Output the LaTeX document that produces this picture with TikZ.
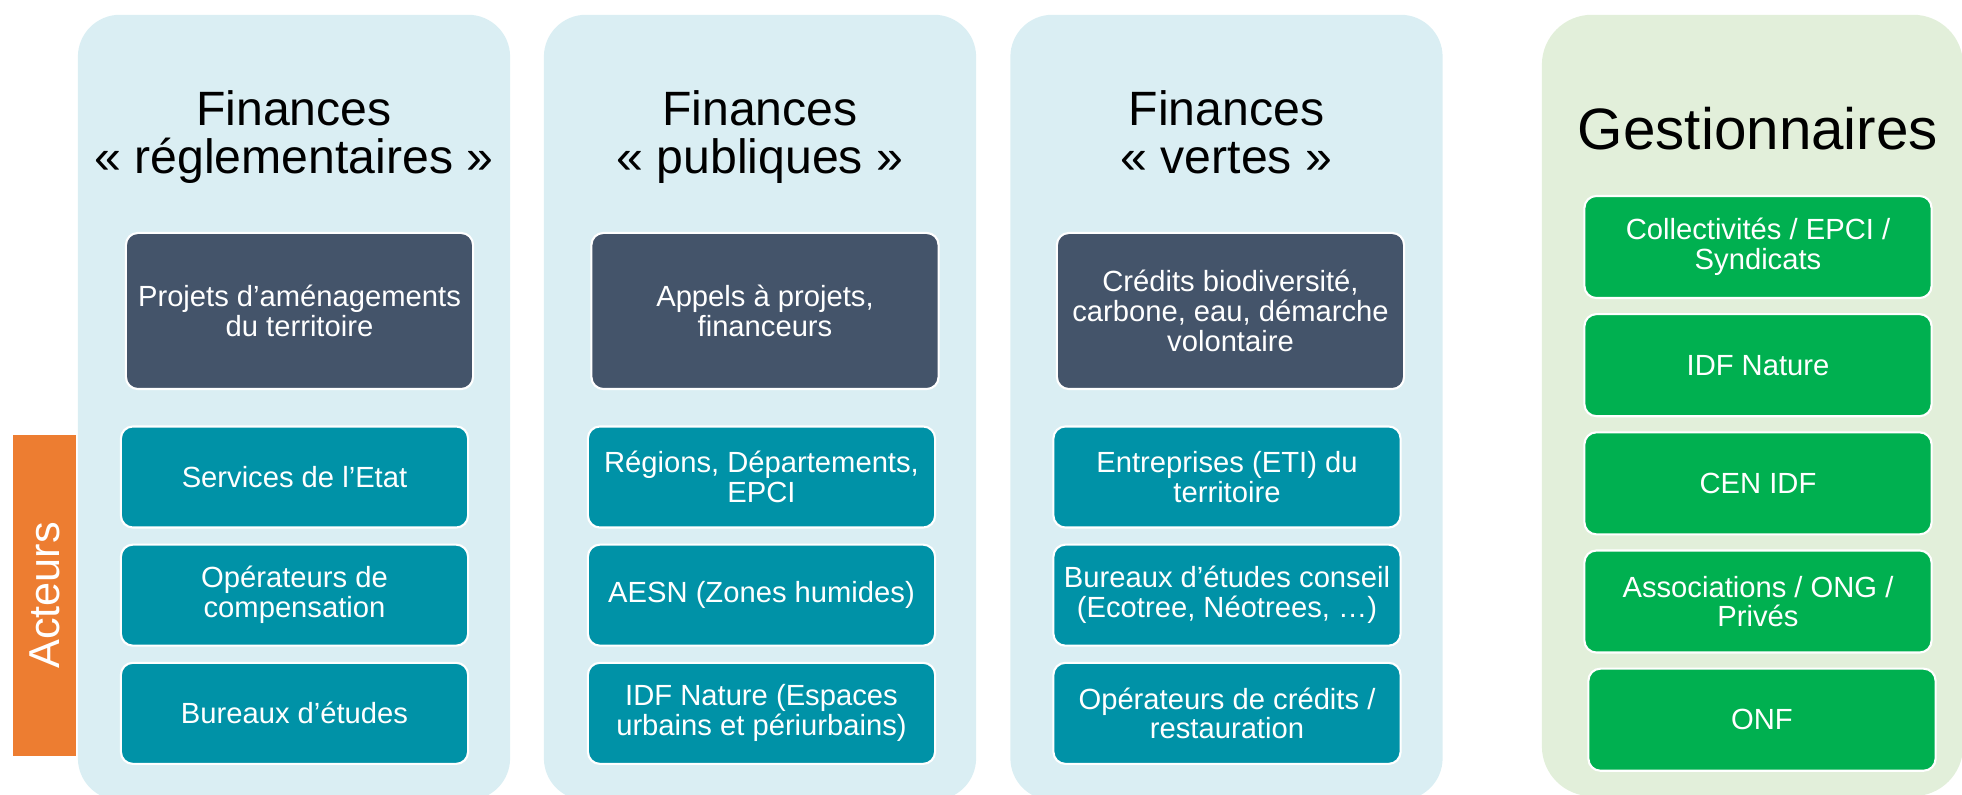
\documentclass[tikz,border=0pt]{standalone}
\usepackage{fontspec}
\setmainfont{Liberation Sans}
\usetikzlibrary{positioning}

\definecolor{colbg}{RGB}{218,238,243}
\definecolor{gestbg}{RGB}{226,239,218}
\definecolor{slate}{RGB}{68,84,106}
\definecolor{tealbox}{RGB}{0,146,167}
\definecolor{gestgreen}{RGB}{0,176,80}
\definecolor{actorange}{RGB}{237,125,49}

\begin{document}
\begin{tikzpicture}[
                x=0.01cm, y=-0.01cm,
                node distance=0.15cm,
                column/.style={
                    rounded corners=0.42cm,
                    minimum width=4.32cm,
                    minimum height=7.85cm,
                    inner sep=0pt
                },
                fincol/.style={column, fill=colbg},
                gestcol/.style={column, fill=gestbg, minimum width=4.21cm, minimum height=7.81cm, rounded corners=0.5cm},
                title/.style={align=center, font=\fontsize{13.7}{13.9}\selectfont},
                box/.style={
                    draw=white,
                    line width=0.6pt,
                    rounded corners=0.12cm,
                    align=center,
                    text=white,
                    minimum width=3.47cm,
                    inner sep=2pt,
                    font=\fontsize{8.3}{8.5}\selectfont
                },
                source/.style={box, fill=slate, minimum height=1.56cm},
                actor/.style={box, fill=tealbox, minimum height=1.01cm},
                manager/.style={box, fill=gestgreen, minimum height=1.02cm},
                actlabel/.style={fill=actorange, text=white, rotate=90, inner sep=0pt,
                    minimum width=3.21cm, minimum height=0.63cm, font=\fontsize{12.3}{13}\selectfont}
            ]
                \useasboundingbox (0,0) rectangle (1962,795);

                % columns
                \node[fincol] (colreg) at (294,407.5) {};
                \node[fincol] (colpub) at (760,407.5) {};
                \node[fincol] (colvert) at (1226.5,407.5) {};
                \node[gestcol] (colgest) at (1752.5,405.5) {};

                % titles (base = last line)
                \node[title, anchor=base] (treg) at (294,174) {Finances\\« réglementaires »};
                \node[title, anchor=base] (tpub) at (760,174) {Finances\\« publiques »};
                \node[title, anchor=base] (tvert) at (1226.5,174) {Finances\\« vertes »};
                \node[font=\fontsize{16.6}{17}\selectfont, anchor=base] (tgest) at (1758,150) {Gestionnaires};

                % sources of funding
                \node[source] (sreg) at (299.5,311) {Projets d’aménagements\\du territoire};
                \node[source] (spub) at (765,311) {Appels à projets,\\financeurs};
                \node[source] (svert) at (1230.5,311) {Crédits biodiversité,\\carbone, eau, démarche\\volontaire};

                % actors
                \node[actor] (areg1) at (294.5,477) {Services de l’Etat};
                \node[actor, below=of areg1] (areg2) {Opérateurs de\\compensation};
                \node[actor, below=of areg2] (areg3) {Bureaux d’études};

                \node[actor] (apub1) at (761.5,477) {Régions, Départements,\\EPCI};
                \node[actor, below=of apub1] (apub2) {AESN (Zones humides)};
                \node[actor, below=of apub2] (apub3) {IDF Nature (Espaces\\urbains et périurbains)};

                \node[actor] (avert1) at (1227,477) {Entreprises (ETI) du\\territoire};
                \node[actor, below=of avert1] (avert2) {Bureaux d’études conseil\\(Ecotree, Néotrees, …)};
                \node[actor, below=of avert2] (avert3) {Opérateurs de crédits /\\restauration};

                % managers
                \node[manager] (g1) at (1758,247) {Collectivités / EPCI /\\Syndicats};
                \node[manager, below=0.14cm of g1] (g2) {IDF Nature};
                \node[manager, below=0.14cm of g2] (g3) {CEN IDF};
                \node[manager, below=0.14cm of g3] (g4) {Associations / ONG /\\Privés};
                \node[manager, below=0.14cm of g4, xshift=0.04cm] (g5) {ONF};

                \node[actlabel] (acteurs) at (44.5,595.5) {Acteurs};
            \end{tikzpicture}
\end{document}
